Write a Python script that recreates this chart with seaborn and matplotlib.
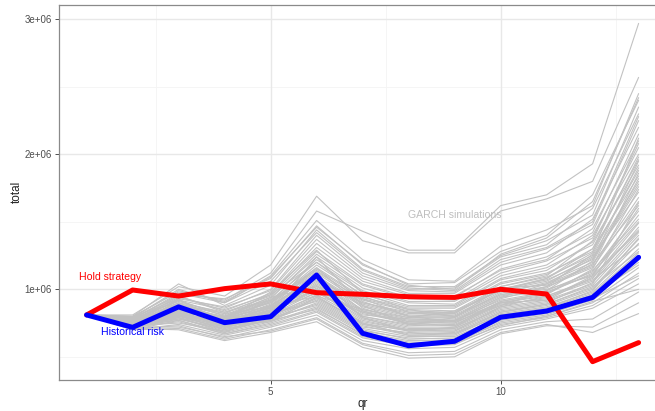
"""
Hold strategy vs historical risk vs GARCH simulated paths (total value by qr).
"""
import numpy as np
import pandas as pd
import matplotlib
matplotlib.use("Agg")
import matplotlib.pyplot as plt
from matplotlib.ticker import FixedLocator, FixedFormatter
import seaborn as sns

# ---------------------------------------------------------------
# Data (values in millions)
# ---------------------------------------------------------------
qr = [1, 2, 3, 4, 5, 6, 7, 8, 9, 10, 11, 12, 13]

hold_strategy = [0.81, 0.995, 0.95, 1.005, 1.04, 0.975, 0.963, 0.945, 0.94, 1.0, 0.965, 0.464, 0.605]
historical_risk = [0.81, 0.718, 0.87, 0.753, 0.797, 1.106, 0.674, 0.582, 0.615, 0.793, 0.839, 0.94, 1.237]

garch_runs = [
    [0.81, 0.80, 0.98, 0.92, 1.12, 1.58, 1.43, 1.29, 1.29, 1.62, 1.70, 1.93, 2.97],
    [0.81, 0.81, 1.02, 0.95, 1.18, 1.69, 1.36, 1.27, 1.27, 1.58, 1.67, 1.80, 2.57],
    [0.81, 0.79, 1.00, 0.90, 1.10, 1.51, 1.22, 1.07, 1.06, 1.32, 1.44, 1.62, 2.45],
    [0.81, 0.78, 0.96, 0.93, 1.08, 1.47, 1.18, 1.04, 1.05, 1.28, 1.40, 1.70, 2.40],
    [0.81, 0.80, 1.04, 0.88, 1.03, 1.44, 1.15, 1.02, 1.02, 1.25, 1.36, 1.55, 2.35],
    [0.81, 0.77, 0.94, 0.86, 1.00, 1.40, 1.12, 1.00, 1.01, 1.24, 1.33, 1.60, 2.30],
    [0.81, 0.79, 0.93, 0.87, 0.99, 1.37, 1.10, 0.99, 0.98, 1.20, 1.30, 1.48, 2.25],
    [0.81, 0.76, 0.95, 0.84, 0.97, 1.34, 1.08, 0.97, 0.97, 1.18, 1.27, 1.52, 2.20],
    [0.81, 0.78, 0.91, 0.82, 0.96, 1.31, 1.06, 0.96, 0.94, 1.15, 1.24, 1.42, 2.15],
    [0.81, 0.75, 0.90, 0.83, 0.95, 1.28, 1.04, 0.94, 0.95, 1.14, 1.22, 1.45, 2.10],
    [0.81, 0.77, 0.92, 0.80, 0.93, 1.26, 1.03, 0.93, 0.92, 1.12, 1.21, 1.38, 2.05],
    [0.81, 0.76, 0.89, 0.81, 0.94, 1.24, 1.01, 0.91, 0.91, 1.10, 1.18, 1.40, 2.00],
    [0.81, 0.74, 0.88, 0.79, 0.91, 1.22, 0.99, 0.90, 0.89, 1.08, 1.16, 1.33, 1.96],
    [0.81, 0.77, 0.90, 0.78, 0.92, 1.20, 0.98, 0.88, 0.88, 1.07, 1.14, 1.35, 1.92],
    [0.81, 0.75, 0.87, 0.80, 0.90, 1.18, 0.96, 0.87, 0.87, 1.05, 1.12, 1.28, 1.88],
    [0.81, 0.78, 0.86, 0.77, 0.89, 1.16, 0.94, 0.86, 0.86, 1.04, 1.11, 1.30, 1.84],
    [0.81, 0.76, 0.89, 0.78, 0.88, 1.15, 0.93, 0.85, 0.84, 1.02, 1.09, 1.25, 1.80],
    [0.81, 0.74, 0.85, 0.79, 0.90, 1.13, 0.92, 0.84, 0.83, 1.00, 1.07, 1.22, 1.76],
    [0.81, 0.77, 0.87, 0.76, 0.87, 1.12, 0.90, 0.82, 0.83, 0.99, 1.06, 1.24, 1.72],
    [0.81, 0.75, 0.86, 0.77, 0.86, 1.10, 0.89, 0.81, 0.81, 0.98, 1.04, 1.18, 1.68],
    [0.81, 0.73, 0.84, 0.78, 0.88, 1.09, 0.88, 0.80, 0.80, 0.96, 1.02, 1.16, 1.65],
    [0.81, 0.76, 0.88, 0.75, 0.85, 1.08, 0.87, 0.79, 0.79, 0.95, 1.01, 1.19, 1.62],
    [0.81, 0.74, 0.85, 0.76, 0.86, 1.06, 0.85, 0.78, 0.78, 0.94, 0.99, 1.13, 1.58],
    [0.81, 0.77, 0.83, 0.74, 0.84, 1.05, 0.84, 0.77, 0.77, 0.92, 0.98, 1.11, 1.55],
    [0.81, 0.75, 0.86, 0.76, 0.83, 1.04, 0.83, 0.76, 0.75, 0.91, 0.97, 1.14, 1.52],
    [0.81, 0.73, 0.82, 0.75, 0.85, 1.02, 0.82, 0.75, 0.75, 0.90, 0.95, 1.08, 1.49],
    [0.81, 0.76, 0.84, 0.73, 0.82, 1.01, 0.80, 0.74, 0.73, 0.88, 0.94, 1.06, 1.46],
    [0.81, 0.74, 0.83, 0.74, 0.83, 0.99, 0.79, 0.72, 0.72, 0.87, 0.92, 1.09, 1.43],
    [0.81, 0.72, 0.81, 0.72, 0.81, 0.98, 0.78, 0.71, 0.71, 0.86, 0.91, 1.03, 1.40],
    [0.81, 0.75, 0.82, 0.73, 0.80, 0.96, 0.77, 0.70, 0.70, 0.84, 0.89, 1.01, 1.37],
    [0.81, 0.73, 0.80, 0.71, 0.81, 0.95, 0.75, 0.69, 0.69, 0.83, 0.88, 1.00, 1.34],
    [0.81, 0.76, 0.79, 0.72, 0.79, 0.93, 0.74, 0.67, 0.68, 0.82, 0.87, 0.98, 1.30],
    [0.81, 0.72, 0.81, 0.70, 0.78, 0.92, 0.73, 0.66, 0.66, 0.81, 0.86, 0.97, 1.27],
    [0.81, 0.74, 0.78, 0.71, 0.77, 0.90, 0.71, 0.65, 0.65, 0.79, 0.84, 0.95, 1.24],
    [0.81, 0.71, 0.79, 0.69, 0.78, 0.89, 0.70, 0.63, 0.64, 0.78, 0.83, 0.94, 1.20],
    [0.81, 0.73, 0.77, 0.68, 0.76, 0.87, 0.68, 0.62, 0.62, 0.77, 0.82, 0.92, 1.16],
    [0.81, 0.72, 0.76, 0.67, 0.75, 0.86, 0.66, 0.60, 0.61, 0.75, 0.80, 0.90, 1.12],
    [0.81, 0.70, 0.74, 0.66, 0.73, 0.83, 0.64, 0.58, 0.59, 0.74, 0.79, 0.88, 1.08],
    [0.81, 0.71, 0.73, 0.64, 0.72, 0.81, 0.62, 0.56, 0.57, 0.72, 0.78, 0.86, 1.04],
    [0.81, 0.70, 0.71, 0.63, 0.70, 0.79, 0.60, 0.53, 0.54, 0.70, 0.76, 0.78, 0.98],
    [0.81, 0.71, 0.70, 0.62, 0.68, 0.76, 0.57, 0.49, 0.50, 0.67, 0.73, 0.72, 0.90],
    [0.81, 0.72, 0.72, 0.65, 0.69, 0.78, 0.59, 0.51, 0.52, 0.68, 0.74, 0.68, 0.82],
    [0.81, 0.78, 0.92, 0.85, 0.96, 1.20, 0.95, 0.83, 0.82, 1.02, 1.10, 1.36, 2.08],
    [0.81, 0.79, 0.95, 0.83, 0.92, 1.14, 0.91, 0.80, 0.82, 1.00, 1.08, 1.30, 1.98],
    [0.81, 0.74, 0.84, 0.77, 0.91, 1.16, 0.86, 0.76, 0.76, 0.93, 1.02, 1.26, 1.90],
    [0.81, 0.76, 0.87, 0.74, 0.88, 1.07, 0.90, 0.83, 0.80, 0.97, 1.05, 1.20, 1.82],
    [0.81, 0.73, 0.86, 0.79, 0.86, 1.00, 0.81, 0.78, 0.77, 0.90, 0.96, 1.15, 1.74],
    [0.81, 0.75, 0.80, 0.76, 0.87, 1.03, 0.80, 0.73, 0.74, 0.89, 0.93, 1.10, 1.60],
    [0.81, 0.77, 0.85, 0.78, 0.84, 0.97, 0.83, 0.75, 0.73, 0.91, 0.97, 1.12, 1.50],
    [0.81, 0.72, 0.83, 0.72, 0.80, 0.94, 0.76, 0.70, 0.71, 0.85, 0.90, 1.05, 1.42],
    [0.81, 0.74, 0.81, 0.74, 0.82, 0.91, 0.72, 0.68, 0.67, 0.83, 0.89, 1.02, 1.28],
    [0.81, 0.71, 0.78, 0.70, 0.79, 0.88, 0.69, 0.64, 0.63, 0.80, 0.85, 0.96, 1.18],
    [0.81, 0.73, 0.75, 0.69, 0.77, 0.85, 0.67, 0.61, 0.60, 0.76, 0.81, 0.93, 1.10],
    [0.81, 0.70, 0.77, 0.67, 0.74, 0.84, 0.65, 0.59, 0.60, 0.73, 0.80, 0.91, 1.00],
    [0.81, 0.78, 0.97, 0.90, 1.06, 1.42, 1.14, 1.01, 0.99, 1.22, 1.31, 1.50, 2.28],
    [0.81, 0.79, 0.99, 0.91, 1.09, 1.46, 1.19, 1.03, 1.00, 1.26, 1.38, 1.65, 2.42],
    [0.81, 0.72, 0.92, 0.76, 0.84, 1.24, 0.88, 0.74, 0.79, 1.01, 1.03, 1.17, 1.86],
    [0.81, 0.79, 0.82, 0.80, 0.94, 1.02, 0.93, 0.80, 0.76, 0.88, 0.99, 1.21, 1.95],
    [0.81, 0.75, 0.93, 0.72, 0.79, 1.10, 0.79, 0.69, 0.72, 0.90, 0.92, 1.04, 1.64],
    [0.81, 0.77, 0.81, 0.78, 0.98, 1.29, 0.97, 0.85, 0.80, 0.96, 1.00, 1.10, 1.44],
    [0.81, 0.73, 0.89, 0.82, 0.87, 0.95, 0.85, 0.79, 0.84, 0.99, 1.08, 1.27, 2.12],
    [0.81, 0.74, 0.79, 0.68, 0.83, 1.00, 0.74, 0.70, 0.69, 0.87, 0.95, 1.07, 1.33],
    [0.81, 0.76, 0.84, 0.80, 0.92, 1.11, 0.84, 0.74, 0.77, 0.94, 1.04, 1.23, 1.78],
    [0.81, 0.71, 0.80, 0.73, 0.76, 0.94, 0.75, 0.66, 0.67, 0.81, 0.86, 0.99, 1.38],
]

y_ticks = [1e6, 2e6, 3e6]
y_tick_labels = ["1e+06", "2e+06", "3e+06"]
x_ticks = [5, 10]

# long-format frames
sims = pd.DataFrame(
    [(i, q, v * 1e6) for i, run in enumerate(garch_runs) for q, v in zip(qr, run)],
    columns=["sim", "qr", "total"],
)
hold = pd.DataFrame({"qr": qr, "total": np.array(hold_strategy) * 1e6})
hist = pd.DataFrame({"qr": qr, "total": np.array(historical_risk) * 1e6})

# ---------------------------------------------------------------
# Plot
# ---------------------------------------------------------------
sns.set_theme(style="white")
plt.rcParams["font.family"] = ["Liberation Sans", "DejaVu Sans"]

fig = plt.figure(figsize=(6.55, 4.11), dpi=100)
ax = fig.add_axes([0.0901, 0.0754, 0.927, 0.9136])

ax.set_xlim(0.4, 13.6)
ax.set_ylim(0.328e6, 3.11e6)

# grid (theme_bw style)
for v in [2.5, 7.5, 12.5]:
    ax.axvline(v, color="#F4F4F4", lw=0.6, zorder=0)
for v in [0.5e6, 1.5e6, 2.5e6]:
    ax.axhline(v, color="#F4F4F4", lw=0.6, zorder=0)
for v in x_ticks:
    ax.axvline(v, color="#E8E8E8", lw=1.0, zorder=0)
for v in y_ticks:
    ax.axhline(v, color="#E8E8E8", lw=1.0, zorder=0)

sns.lineplot(data=sims, x="qr", y="total", units="sim", estimator=None,
             color="#C2C2C2", lw=0.8, ax=ax, legend=False)
sns.lineplot(data=hold, x="qr", y="total", color="#FF0000", lw=3.6, ax=ax)
sns.lineplot(data=hist, x="qr", y="total", color="#0000FF", lw=3.6, ax=ax)

ax.text(1.5, 1.09e6, "Hold strategy", color="#FF0000", fontsize=7.6,
        ha="center", va="center")
ax.text(2.0, 0.684e6, "Historical risk", color="#0000FF", fontsize=7.6,
        ha="center", va="center")
ax.text(9.0, 1.55e6, "GARCH simulations", color="#BEBEBE", fontsize=7.6,
        ha="center", va="center")

ax.xaxis.set_major_locator(FixedLocator(x_ticks))
ax.yaxis.set_major_locator(FixedLocator(y_ticks))
ax.yaxis.set_major_formatter(FixedFormatter(y_tick_labels))
ax.tick_params(axis="both", which="major", length=3, width=0.6, color="#333333",
               labelsize=7, labelcolor="#4D4D4D", pad=2,
               bottom=True, left=True)

for side in ["top", "right", "bottom", "left"]:
    ax.spines[side].set_color("#8A8A8A")
    ax.spines[side].set_linewidth(0.9)

ax.set_xlabel("qr", fontsize=8.5, color="#222222", labelpad=1)
ax.set_ylabel("total", fontsize=8.5, color="#222222", labelpad=1)

fig.savefig("out.png", dpi=100)
